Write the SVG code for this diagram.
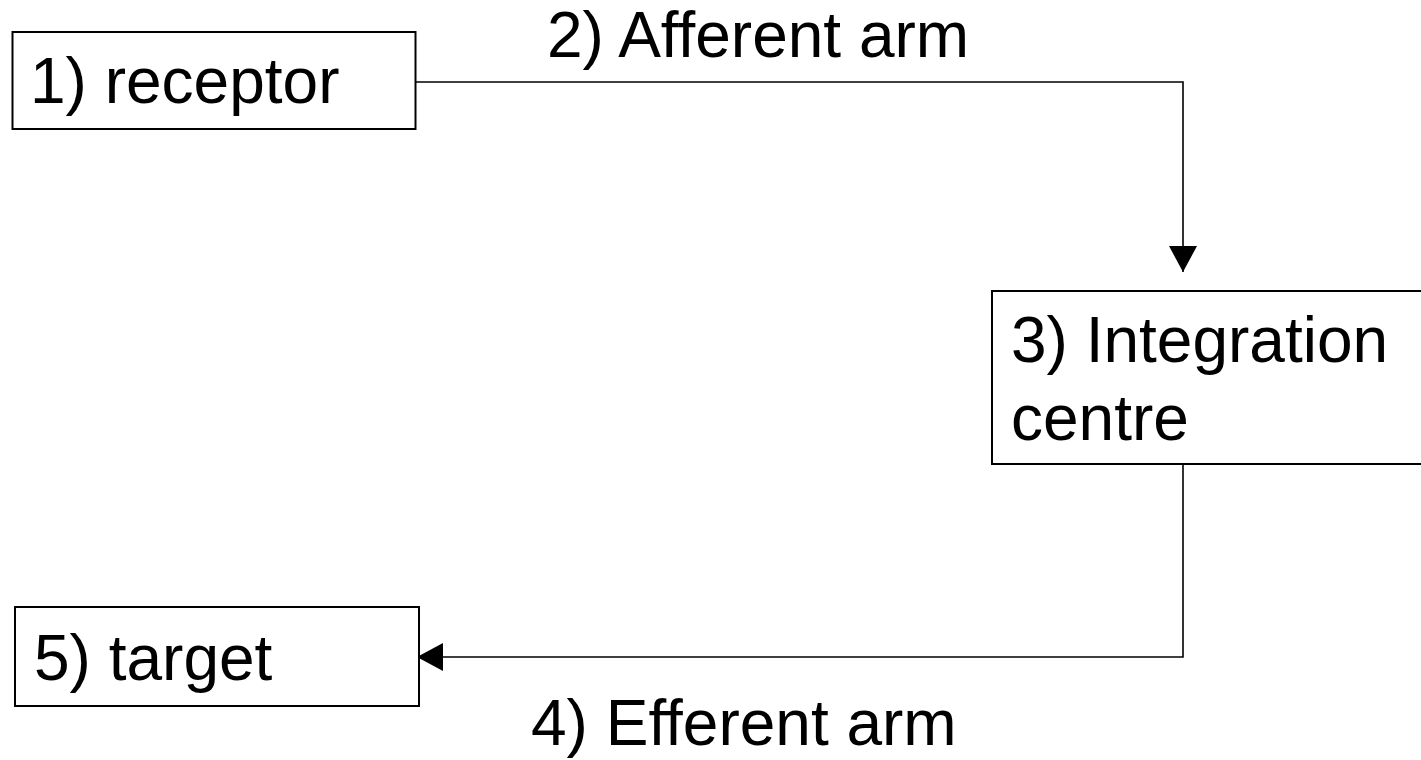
<svg xmlns="http://www.w3.org/2000/svg" width="1421" height="760" viewBox="0 0 1421 760">
<style>
.box{fill:#fff;stroke:#000;stroke-width:2}
.t{font-family:"Liberation Sans",Arial,sans-serif;font-size:64px;fill:#000}
.c{fill:none;stroke:#000;stroke-width:1.6}
</style>
<defs>
<marker id="ah" markerUnits="userSpaceOnUse" markerWidth="26" markerHeight="28" refX="26" refY="14" orient="auto">
<path d="M0,0 L26,14 L0,28 Z" fill="#000"/>
</marker>
</defs>
<rect width="1421" height="760" fill="#fff"/>
<g id="connectors">
<path class="c" d="M416,82 H1183 V272" marker-end="url(#ah)"/>
<path class="c" d="M1183,464 V657 H417" marker-end="url(#ah)"/>
</g>
<g id="receptor">
<rect class="box" x="12.5" y="32" width="403" height="97"/>
<text class="t" x="30" y="103">1) receptor</text>
</g>
<g id="afferent-label">
<text class="t" x="547" y="57">2) Afferent arm</text>
</g>
<g id="integration">
<rect class="box" x="992" y="291" width="440" height="173"/>
<text class="t" x="1011" y="362">3) Integration</text>
<text class="t" x="1011" y="440">centre</text>
</g>
<g id="efferent-label">
<text class="t" x="531" y="745">4) Efferent arm</text>
</g>
<g id="target">
<rect class="box" x="15" y="607" width="404" height="99"/>
<text class="t" x="34" y="680">5) target</text>
</g>
</svg>
